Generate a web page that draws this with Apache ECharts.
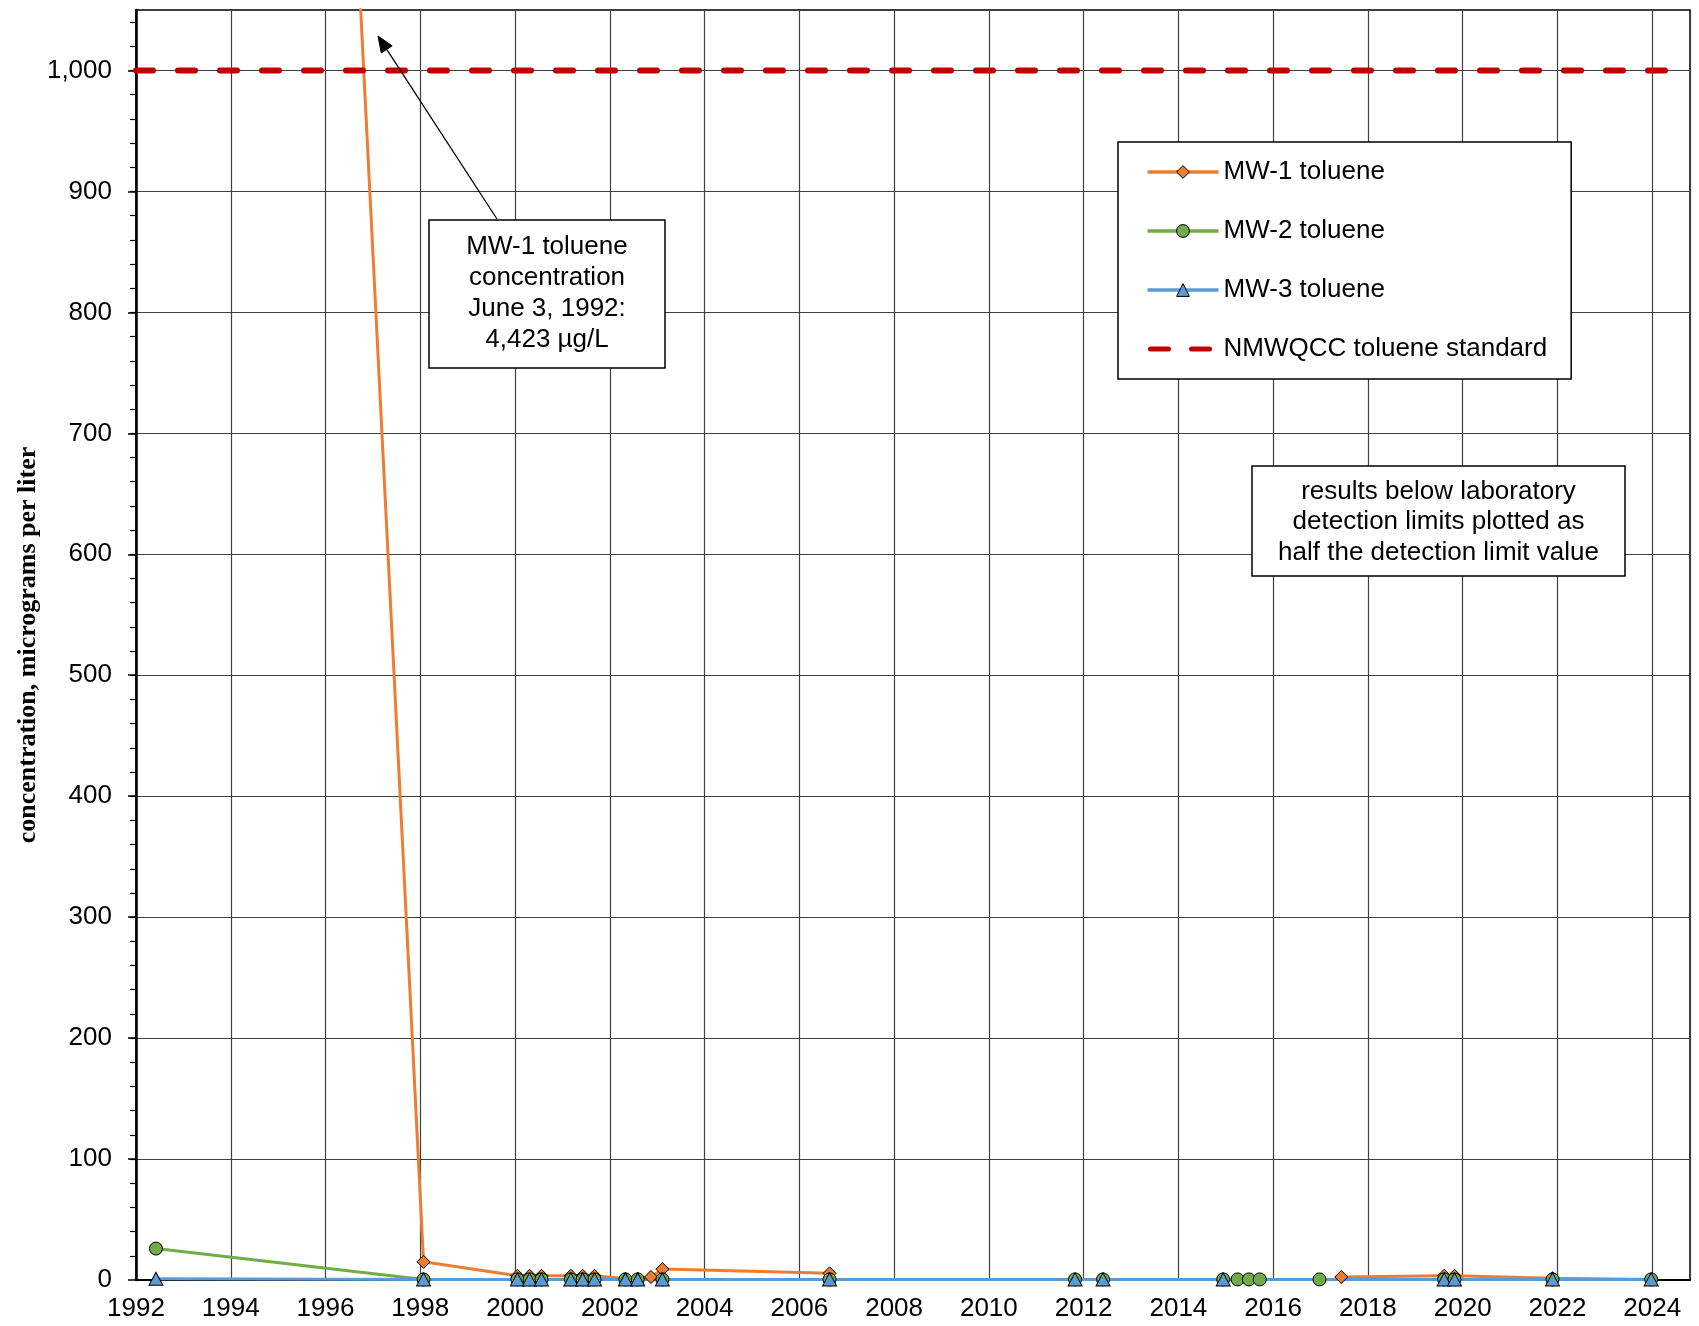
<!DOCTYPE html>
<html>
<head>
<meta charset="utf-8">
<script src="https://cdn.jsdelivr.net/npm/echarts@6/dist/echarts.min.js"></script>
<style>
  html, body { margin: 0; padding: 0; background: #fff; }
  #chart { width: 1699px; height: 1326px; }
</style>
</head>
<body>
<div id="chart"></div>
<script>
// Sampling dates and toluene results (µg/L); non-detects plotted at half the detection limit.
const mw1Dates = ['1992-06-03', '1998-01-26', '2000-01-19', '2000-04-22', '2000-07-23',
  '2001-03-07', '2001-06-06', '2001-09-05', '2002-05-01', '2002-08-04', '2002-11-14',
  '2003-02-10', '2006-08-22', '2011-10-27', '2017-06-10', '2019-08-11', '2019-10-30',
  '2021-11-24', '2023-12-24'];
const mw1Values = [4423, 15, 3.5, 3.5, 3.5, 3.5, 3.5, 3.5, 1, 1, 2.5, 9, 5.5, null,
  2.5, 3.5, 3.5, 1.5, 0.5];

const mw2Dates = ['1992-06-03', '1998-01-26', '2000-01-19', '2000-04-22', '2000-07-23',
  '2001-03-07', '2001-06-06', '2001-09-05', '2002-05-01', '2002-08-04', '2003-02-10',
  '2006-08-22', '2011-10-27', '2012-05-30', '2014-12-12', '2015-04-02', '2015-06-28',
  '2015-09-20', '2016-12-24', '2019-08-11', '2019-10-30', '2021-11-24', '2023-12-24'];
const mw2Values = [26, 0.5, 0.5, 0.5, 0.5, 0.5, 0.5, 0.5, 0.5, 0.5, 0.5,
  0.5, 0.5, 0.5, 0.5, 0.5, 0.5, 0.5, 0.5, 0.5, 0.5, 0.5, 0.5];

const mw3Dates = ['1992-06-03', '1998-01-26', '2000-01-19', '2000-04-22', '2000-07-23',
  '2001-03-07', '2001-06-06', '2001-09-05', '2002-05-01', '2002-08-04', '2003-02-10',
  '2006-08-22', '2011-10-27', '2012-05-30', '2014-12-12', '2019-08-11', '2019-10-30',
  '2021-11-24', '2023-12-24'];
const mw3Values = [1, 0.5, 0.5, 0.5, 0.5, 0.5, 0.5, 0.5, 0.5, 0.5, 0.5,
  0.5, 0.5, 0.5, 0.5, 0.5, 0.5, 0.5, 0.5];

const standardValue = 1000;           // NMWQCC toluene standard, µg/L
const xRangeDates = ['1992-01-01', '2024-10-19'];
const yRange = [0, 1050];
const yMajorTicks = [0, 100, 200, 300, 400, 500, 600, 700, 800, 900, 1000];

const seriesNames = ['MW-1 toluene', 'MW-2 toluene', 'MW-3 toluene', 'NMWQCC toluene standard'];
const annotationLines = ['MW-1 toluene', 'concentration', 'June 3, 1992:', '4,423 µg/L'];
const noteLines = ['results below laboratory', 'detection limits plotted as', 'half the detection limit value'];
const yTitle = 'concentration, micrograms per liter';

// date string -> decimal year
function toYear(s) {
  const d = new Date(s + 'T00:00:00Z');
  const y = d.getUTCFullYear();
  const a = Date.UTC(y, 0, 1), b = Date.UTC(y + 1, 0, 1);
  return y + (d.getTime() - a) / (b - a);
}
function pairs(dates, values) {
  return dates.map((d, i) => [toYear(d), values[i]]);
}

const xMin = toYear(xRangeDates[0]);
const xMax = toYear(xRangeDates[1]);

const SANS = "'Liberation Sans', Arial, sans-serif";
const SERIF = "'Liberation Serif', 'Times New Roman', serif";
const FS = 26;

const minorTickValues = [];
for (let v = yRange[0] + 20; v < yRange[1]; v += 20) minorTickValues.push(v);

const chart = echarts.init(document.getElementById('chart'), null, { renderer: 'canvas' });

function markerSeries(name, data, symbol, size, color) {
  return {
    name, type: 'line', data,
    symbol, symbolSize: size, showSymbol: true,
    connectNulls: false, clip: true,
    lineStyle: { color, width: 3 },
    itemStyle: { color, borderColor: '#000', borderWidth: 1 },
    emphasis: { disabled: true },
    animation: false
  };
}

// Callout arrow geometry
const tail = [497, 219], tip = [378, 36];
const len = Math.hypot(tip[0] - tail[0], tip[1] - tail[1]);
const ux = (tip[0] - tail[0]) / len, uy = (tip[1] - tail[1]) / len;
const headLen = 16, headHalf = 6.5;
const base = [tip[0] - ux * headLen, tip[1] - uy * headLen];
const head = [tip, [base[0] - uy * headHalf, base[1] + ux * headHalf], [base[0] + uy * headHalf, base[1] - ux * headHalf]];

const option = {
  backgroundColor: '#fff',
  animation: false,
  grid: {
    left: 136, top: 10, width: 1554, height: 1270,
    show: true, borderColor: '#000', borderWidth: 1.5, backgroundColor: '#fff'
  },
  xAxis: {
    type: 'value', min: xMin, max: xMax, interval: 2,
    axisLine: { show: true, onZero: false, lineStyle: { color: '#000', width: 2 } },
    axisTick: { show: false },
    axisLabel: {
      show: true, margin: 16, color: '#000', fontSize: FS, fontFamily: SANS,
      showMaxLabel: false,
      formatter: v => (Math.abs(v - Math.round(v)) < 1e-6 ? String(Math.round(v)) : '')
    },
    splitLine: { show: true, lineStyle: { color: '#404040', width: 1.2 } }
  },
  yAxis: [
    {
      type: 'value', min: yRange[0], max: yRange[1], interval: 100, position: 'left',
      axisLine: { show: true, lineStyle: { color: '#000', width: 2.5 } },
      axisTick: { show: true, length: 8, customValues: yMajorTicks, lineStyle: { color: '#000', width: 1.5 } },
      axisLabel: {
        show: true, margin: 24, color: '#000', fontSize: FS, fontFamily: SANS,
        customValues: yMajorTicks,
        formatter: v => (v % 100 === 0 ? v.toLocaleString('en-US') : '')
      },
      splitLine: { show: true, lineStyle: { color: '#404040', width: 1.2 } }
    },
    {
      type: 'value', min: yRange[0], max: yRange[1], interval: 20, position: 'left',
      axisLine: { show: false },
      axisTick: { show: true, length: 6, customValues: minorTickValues, lineStyle: { color: '#000', width: 1.2 } },
      axisLabel: { show: false },
      splitLine: { show: false }
    }
  ],
  legend: {
    orient: 'vertical', left: 1118, top: 142,
    padding: [17, 24, 17, 27],
    itemGap: 33, itemWidth: 71, itemHeight: 16,
    backgroundColor: '#fff', borderColor: '#000', borderWidth: 1.5,
    textStyle: { fontSize: FS, fontFamily: SANS, color: '#000', lineHeight: 26 },
    itemStyle: { borderWidth: 1, borderColor: '#000' },
    lineStyle: { width: 3.5 },
    selectedMode: false,
    data: [
      { name: seriesNames[0] },
      { name: seriesNames[1] },
      { name: seriesNames[2] },
      {
        name: seriesNames[3],
        itemStyle: { color: 'rgba(0,0,0,0)', borderColor: 'rgba(0,0,0,0)', borderWidth: 0 },
        lineStyle: { width: 5, type: [18, 23], dashOffset: -3, cap: 'round' }
      }
    ]
  },
  series: [
    markerSeries(seriesNames[0], pairs(mw1Dates, mw1Values), 'diamond', 13, '#ED7D31'),
    markerSeries(seriesNames[1], pairs(mw2Dates, mw2Values), 'circle', 13, '#70AD47'),
    markerSeries(seriesNames[2], pairs(mw3Dates, mw3Values), 'triangle', [14, 13], '#5B9BD5'),
    {
      name: seriesNames[3], type: 'line',
      data: [[xMin, standardValue], [xMax, standardValue]],
      symbol: 'none', showSymbol: false,
      lineStyle: { color: '#C00000', width: 6, type: [17, 25], cap: 'round' },
      itemStyle: { color: '#C00000' },
      emphasis: { disabled: true },
      animation: false
    }
  ],
  graphic: [
    {
      type: 'text', x: 28, y: 645, rotation: Math.PI / 2, z: 50,
      style: {
        text: yTitle, font: 'bold 26px ' + SERIF, fill: '#000',
        align: 'center', verticalAlign: 'middle', textAlign: 'center', textVerticalAlign: 'middle'
      }
    },
    {
      type: 'polyline', z: 60,
      shape: { points: [tail, base] },
      style: { stroke: '#000', lineWidth: 1.3, fill: null }
    },
    {
      type: 'polygon', z: 60,
      shape: { points: head },
      style: { fill: '#000', stroke: '#000', lineWidth: 1 }
    },
    {
      type: 'rect', z: 60,
      shape: { x: 429, y: 220, width: 236, height: 148 },
      style: { fill: '#fff', stroke: '#000', lineWidth: 1.5 }
    },
    {
      type: 'text', x: 547, y: 293, z: 61,
      style: {
        text: annotationLines.join('\n'), font: FS + 'px ' + SANS, fill: '#000', lineHeight: 31,
        align: 'center', verticalAlign: 'middle', textAlign: 'center', textVerticalAlign: 'middle'
      }
    },
    {
      type: 'rect', z: 60,
      shape: { x: 1252, y: 466, width: 373, height: 110 },
      style: { fill: '#fff', stroke: '#000', lineWidth: 1.5 }
    },
    {
      type: 'text', x: 1438.5, y: 522, z: 61,
      style: {
        text: noteLines.join('\n'), font: FS + 'px ' + SANS, fill: '#000', lineHeight: 30.5,
        align: 'center', verticalAlign: 'middle', textAlign: 'center', textVerticalAlign: 'middle'
      }
    }
  ]
};

chart.setOption(option);
</script>
</body>
</html>
